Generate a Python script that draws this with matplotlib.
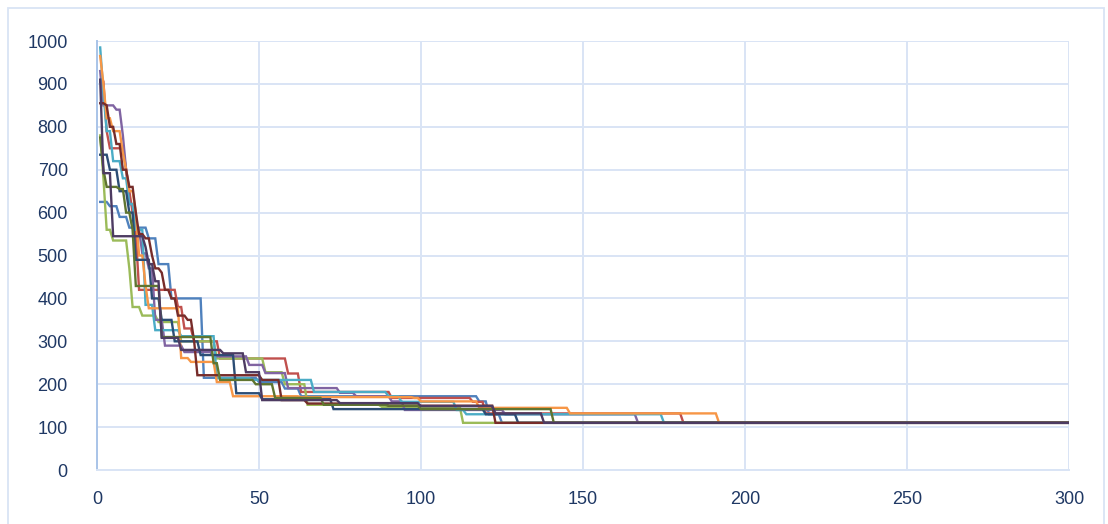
import matplotlib.pyplot as plt
import numpy as np
from matplotlib.patches import Rectangle

# best-so-far curves, stored as (iteration, new value) change points
n_iter = 300
series_colors = [
    "#4F81BD", "#C0504D", "#9BBB59", "#8064A2", "#4BACC6",
    "#F79646", "#2C4D75", "#772C2A", "#5F7530", "#4D3B62",
]

blue = [(1, 625), (4, 615), (7, 590), (10, 565), (16, 540), (19, 480), (23, 400),
        (33, 215), (50, 205), (58, 190), (63, 172), (118, 160), (121, 130), (125, 110)]
red = [(1, 905), (3, 790), (4, 750), (9, 700), (10, 650), (11, 600), (12, 550),
       (13, 420), (25, 380), (27, 330), (30, 300), (38, 260), (59, 225), (63, 182),
       (91, 168), (116, 159), (120, 132), (181, 110)]
green = [(1, 780), (2, 680), (3, 560), (5, 535), (10, 470), (11, 380), (14, 360),
         (19, 345), (26, 300), (37, 260), (52, 228), (58, 200), (65, 152),
         (88, 147), (113, 110)]
purple = [(1, 930), (2, 850), (6, 840), (8, 780), (9, 700), (10, 620), (12, 560),
          (14, 505), (16, 470), (18, 350), (21, 290), (27, 275), (36, 265),
          (47, 245), (52, 226), (59, 191), (75, 180), (80, 172), (91, 160),
          (95, 140), (126, 130), (167, 110)]
aqua = [(1, 985), (2, 880), (3, 790), (5, 720), (8, 680), (10, 620), (12, 560),
        (15, 385), (18, 326), (26, 312), (37, 214), (48, 210), (67, 182),
        (90, 172), (94, 159), (111, 140), (114, 130), (175, 110)]
orange = [(1, 965), (2, 900), (3, 820), (5, 790), (8, 740), (9, 700), (10, 650),
          (12, 600), (13, 500), (15, 430), (16, 377), (26, 261), (29, 252),
          (37, 205), (42, 172), (63, 170), (98, 168), (100, 160), (118, 145),
          (146, 132), (192, 110)]
dark_blue = [(1, 735), (4, 700), (7, 650), (10, 600), (12, 490), (17, 400),
             (20, 350), (24, 300), (32, 268), (43, 179), (51, 165), (73, 142),
             (120, 130), (130, 110)]
dark_red = [(1, 855), (3, 850), (4, 800), (6, 760), (8, 700), (10, 660), (12, 600),
            (13, 550), (15, 540), (17, 500), (18, 470), (20, 460), (21, 420),
            (23, 400), (25, 360), (28, 350), (30, 300), (31, 221), (51, 210),
            (57, 163), (65, 155), (90, 150), (123, 110)]
dark_green = [(1, 775), (2, 700), (3, 660), (7, 655), (9, 600), (11, 560),
              (12, 429), (20, 310), (36, 249), (38, 210), (49, 200), (55, 168),
              (70, 152), (90, 150), (100, 142), (141, 110)]
dark_purple = [(1, 910), (2, 692), (5, 545), (15, 520), (16, 480), (18, 440),
               (20, 308), (26, 280), (39, 272), (46, 228), (51, 163), (75, 156),
               (100, 149), (123, 132), (138, 110)]

all_series = [blue, red, green, purple, aqua, orange,
              dark_blue, dark_red, dark_green, dark_purple]


def expand(points, n=n_iter):
    values = np.empty(n)
    for start, val in points:
        values[start - 1:] = val
    return values


iterations = np.arange(1, n_iter + 1)

plt.rcParams["font.family"] = ["Liberation Sans", "DejaVu Sans"]
fig = plt.figure(figsize=(11.08, 5.24), dpi=100)
ax = fig.add_axes([0.0875, 0.103, 0.8773, 0.8187])

for pts, color in zip(all_series, series_colors):
    ax.plot(iterations, expand(pts), color=color, lw=1.7, solid_joinstyle="miter")

ax.set_xlim(0, 300)
ax.set_ylim(0, 1000)
ax.set_xticks(np.arange(0, 301, 50))
ax.set_yticks(np.arange(0, 1001, 100))
ax.grid(True, color="#D9E4F5", lw=1.4)
ax.set_axisbelow(True)
for side in ["top", "right"]:
    ax.spines[side].set_visible(False)
ax.spines["left"].set_color("#A9C4E8")
ax.spines["left"].set_linewidth(1.4)
ax.spines["bottom"].set_color("#D9E4F5")
ax.spines["bottom"].set_linewidth(1.4)
ax.tick_params(length=0, labelsize=13, labelcolor="#1F3864")
ax.tick_params(axis="y", pad=21)
ax.tick_params(axis="x", pad=15)

# chart area border
fig.patches.append(Rectangle((8 / 1108, -0.05), 1096 / 1108, 1.05 - 8 / 524,
                             transform=fig.transFigure, fill=False,
                             edgecolor="#D9E4F5", lw=1.3))

fig.savefig("out.png", dpi=100)
